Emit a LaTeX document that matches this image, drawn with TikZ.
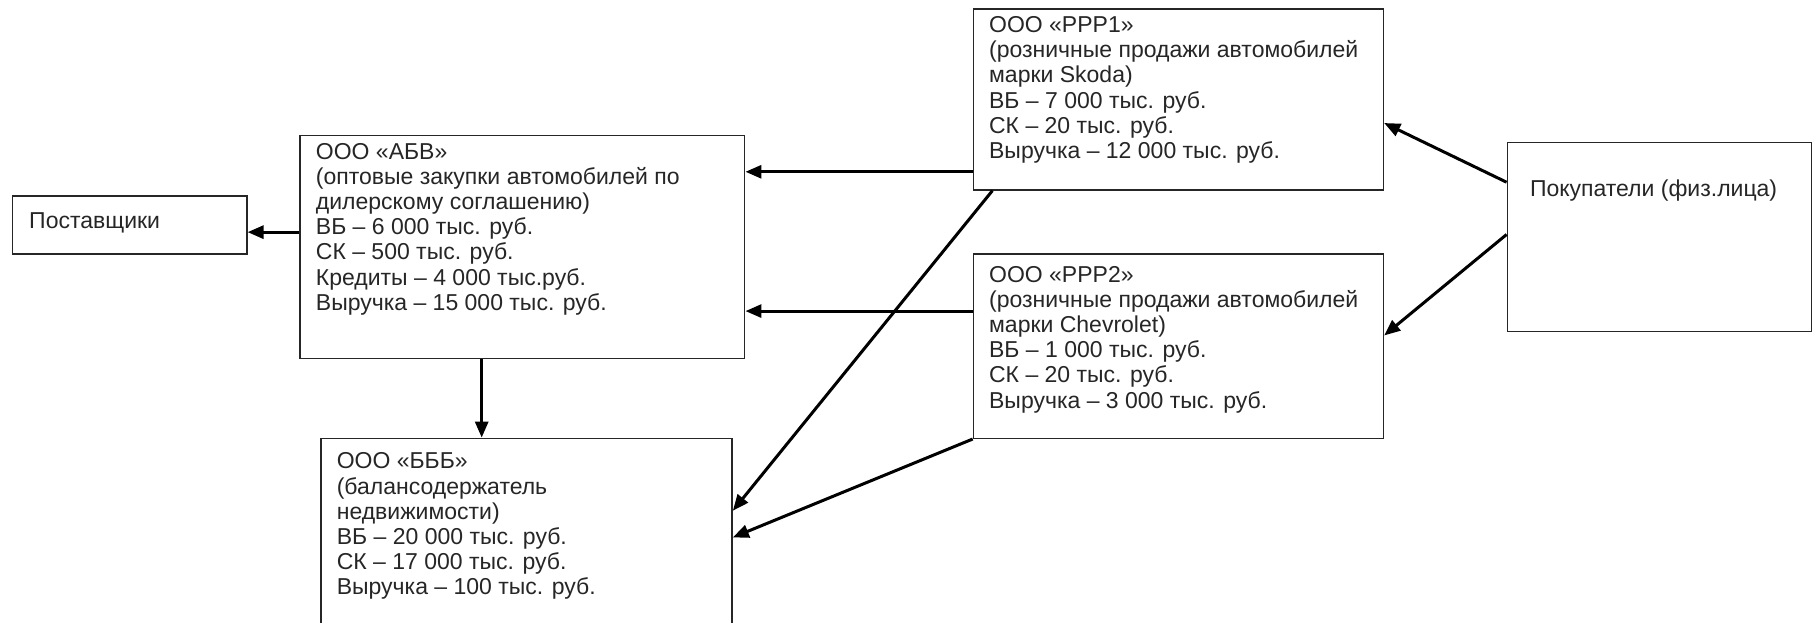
\documentclass[tikz,border=0pt]{standalone}
\usepackage{fontspec}
\setmainfont{Liberation Sans}
\usetikzlibrary{arrows.meta}
\begin{document}
\begin{tikzpicture}[x=1.16071pt,y=-1.16071pt,
  boxst/.style={draw=black!85, line width=1.5pt, rectangle, inner sep=0pt, anchor=north west},
  txt/.style={anchor=north west, align=left, inner sep=0pt, font=\fontsize{23}{25.2}\selectfont, text=black!85},
  arr/.style={line width=3pt, -{Triangle[length=16pt,width=13pt]}}]
\useasboundingbox (0,0) rectangle (1568,535.9);
\clip (0,0) rectangle (1568,535.9);
\fill[white] (0,0) rectangle (1568,535.9);
% boxes
\node[boxst, minimum width=234.5pt, minimum height=58pt] (supp) at (10,168) {};
\node[boxst, minimum width=444.5pt, minimum height=223pt] (abv) at (258,116) {};
\node[boxst, minimum width=410pt, minimum height=181pt] (rrr1) at (838,7) {};
\node[boxst, minimum width=410pt, minimum height=184.5pt] (rrr2) at (838,218) {};
\node[boxst, minimum width=304pt, minimum height=189pt] (buy) at (1298,122) {};
\node[boxst, minimum width=411pt, minimum height=300pt] (bbb) at (276,377) {};
% texts
\node[txt] (tsupp) at (25,183) {Поставщики};
\node[txt] (tabv) at (272,123) {ООО «АБВ»\\(оптовые закупки автомобилей по\\дилерскому соглашению)\\ВБ – 6 000 тыс. руб.\\СК – 500 тыс. руб.\\Кредиты – 4 000 тыс.руб.\\Выручка – 15 000 тыс. руб.};
\node[txt] (trrr1) at (852,14) {ООО «РРР1»\\(розничные продажи автомобилей\\марки Skoda)\\ВБ – 7 000 тыс. руб.\\СК – 20 тыс. руб.\\Выручка – 12 000 тыс. руб.};
\node[txt] (trrr2) at (852,229) {ООО «РРР2»\\(розничные продажи автомобилей\\марки Chevrolet)\\ВБ – 1 000 тыс. руб.\\СК – 20 тыс. руб.\\Выручка – 3 000 тыс. руб.};
\node[txt] (tbbb) at (290,390) {ООО «БББ»\\(балансодержатель\\недвижимости)\\ВБ – 20 000 тыс. руб.\\СК – 17 000 тыс. руб.\\Выручка – 100 тыс. руб.};
\node[txt] (tbuy) at (1318,155) {Покупатели (физ.лица)};
% connectors
\draw[arr] (abv.west |- 0,200) -- (supp.east |- 0,200);
\draw[arr] (rrr1.west |- 0,148) -- (abv.east |- 0,148);
\draw[arr] (rrr2.west |- 0,268) -- (abv.east |- 0,268);
\draw[arr] (abv.south -| 415,0) -- (bbb.north -| 415,0);
\draw[arr] (rrr1.south -| 855,0) -- (bbb.east |- 0,440);
\draw[arr] (rrr2.south west) -- (bbb.east |- 0,463);
\draw[arr] (buy.west |- 0,157) -- (rrr1.east |- 0,106);
\draw[arr] (buy.west |- 0,202) -- (rrr2.east |- 0,289);
\end{tikzpicture}
\end{document}
